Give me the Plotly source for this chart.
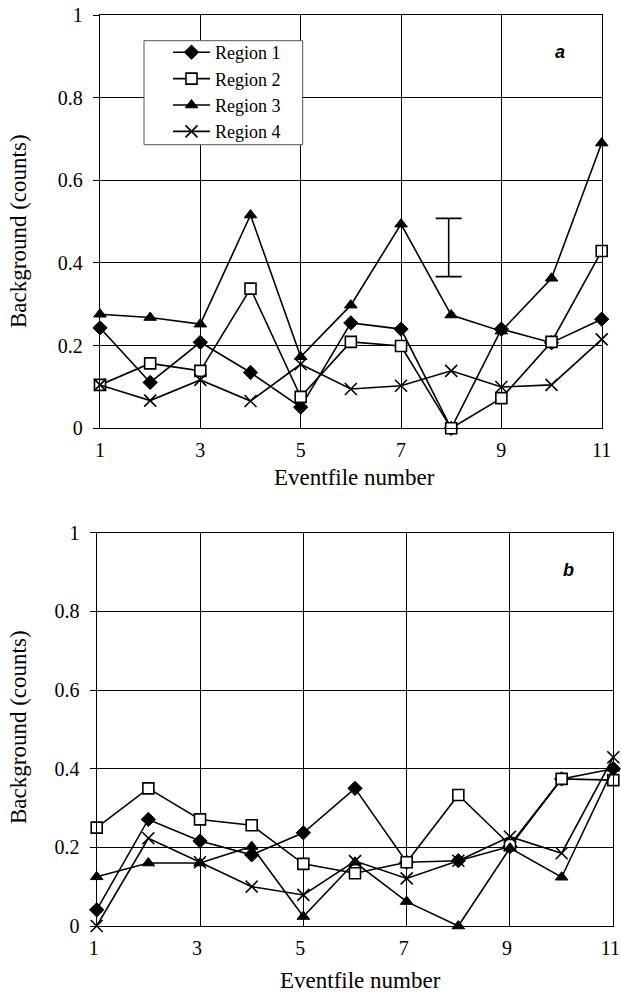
import plotly.graph_objects as go

eventfile = [1, 2, 3, 4, 5, 6, 7, 8, 9, 10, 11]
series_names = ["Region 1", "Region 2", "Region 3", "Region 4"]

a_region1 = [0.243, 0.111, 0.208, 0.135, 0.051, 0.255, 0.240, 0.0, 0.240, 0.207, 0.264]
a_region2 = [0.105, 0.157, 0.139, 0.338, 0.076, 0.209, 0.199, 0.0, 0.073, 0.209, 0.429]
a_region3 = [0.276, 0.268, 0.252, 0.516, 0.173, 0.298, 0.494, 0.274, 0.235, 0.363, 0.690]
a_region4 = [0.105, 0.067, 0.117, 0.066, 0.155, 0.095, 0.103, 0.139, 0.100, 0.105, 0.215]

b_region1 = [0.041, 0.271, 0.216, 0.181, 0.237, 0.350, 0.162, 0.166, 0.202, 0.374, 0.400]
b_region2 = [0.250, 0.350, 0.271, 0.256, 0.158, 0.134, 0.162, 0.333, 0.206, 0.374, 0.371]
b_region3 = [0.125, 0.160, 0.160, 0.202, 0.024, 0.162, 0.062, 0.0, 0.198, 0.124, 0.401]
b_region4 = [0.0, 0.223, 0.162, 0.100, 0.079, 0.165, 0.121, 0.166, 0.227, 0.185, 0.429]

errbar_x = [7.95]
errbar_y = [0.4375]
errbar_half = [0.0705]

y_ticks = [0, 0.2, 0.4, 0.6, 0.8, 1]
y_ticktext = ["0", "0.2", "0.4", "0.6", "0.8", "1"]
x_ticks = [1, 3, 5, 7, 9, 11]

W, H = 621, 994
SERIF = "Liberation Serif"
SANS = "Liberation Sans"

def px_x(p):
    return min(1.0, max(0.0, p / W))

def px_y(p):
    return max(0.0, min(1.0, 1 - p / H))

markers = [
    dict(symbol="diamond", size=11, color="black", line=dict(color="black", width=1)),
    dict(symbol="square", size=11, color="white", line=dict(color="black", width=1.6)),
    dict(symbol="triangle-up", size=11, color="black", line=dict(color="black", width=1)),
    dict(symbol="x-thin-open", size=12, color="black", line=dict(color="black", width=1.6)),
]

fig = go.Figure()

panels = [
    ([a_region1, a_region2, a_region3, a_region4], "x", "y", True),
    ([b_region1, b_region2, b_region3, b_region4], "x2", "y2", False),
]
for data, xa, ya, showleg in panels:
    for name, vals, mk in zip(series_names, data, markers):
        fig.add_trace(go.Scatter(
            x=eventfile, y=vals, name=name, mode="lines+markers",
            line=dict(color="black", width=1.6), marker=mk,
            xaxis=xa, yaxis=ya, showlegend=showleg, cliponaxis=False,
        ))

fig.add_trace(go.Scatter(
    x=errbar_x, y=errbar_y, mode="markers", marker=dict(size=0.1, color="rgba(0,0,0,0)"),
    error_y=dict(type="data", array=errbar_half, symmetric=True, color="black", thickness=1.6, width=13),
    xaxis="x", yaxis="y", showlegend=False, hoverinfo="skip",
))

axis_common = dict(
    showline=True, linecolor="black", linewidth=1.3, mirror=True,
    showgrid=True, gridcolor="black", gridwidth=1,
    zeroline=False, automargin=False, ticklabeloverflow="allow",
    tickfont=dict(family=SERIF, size=20, color="black"),
)

title_font = dict(family=SERIF, size=23, color="black")

fig.update_layout(
    width=W, height=H,
    margin=dict(l=0, r=0, t=0, b=0),
    paper_bgcolor="white", plot_bgcolor="white",
    font=dict(family=SERIF, color="black"),
    xaxis=dict(domain=[px_x(100), px_x(601.7)], range=[1, 11], tickvals=x_ticks,
               ticks="", anchor="y", ticklabelstandoff=4, **axis_common),
    yaxis=dict(domain=[px_y(428.3), px_y(15)], range=[0, 1], tickvals=y_ticks, ticktext=y_ticktext,
               ticks="outside", ticklen=6, tickcolor="black", anchor="x", ticklabelstandoff=6,
               **axis_common),
    xaxis2=dict(domain=[px_x(96.7), px_x(613.3)], range=[1, 11], tickvals=x_ticks,
                ticks="", anchor="y2", ticklabelstandoff=4, ticklabelshift=-3, **axis_common),
    yaxis2=dict(domain=[px_y(926), px_y(532.7)], range=[0, 1], tickvals=y_ticks, ticktext=y_ticktext,
                ticks="outside", ticklen=6, tickcolor="black", anchor="x2", ticklabelstandoff=6,
                **axis_common),
    legend=dict(
        x=px_x(168), y=px_y(34), xanchor="left", yanchor="top",
        bgcolor="rgba(0,0,0,0)", borderwidth=0, itemwidth=37,
        font=dict(family=SERIF, size=18, color="black"),
        tracegroupgap=0,
    ),
    shapes=[
        dict(type="rect", xref="paper", yref="paper", layer="above",
             x0=px_x(144), x1=px_x(302.7), y0=px_y(144.7), y1=px_y(40.7),
             fillcolor="white", line=dict(color="#555", width=1)),
    ],
    annotations=[
        dict(text="Eventfile number", xref="paper", yref="paper", x=px_x(354), y=px_y(478),
             xanchor="center", yanchor="middle", showarrow=False, font=title_font),
        dict(text="Eventfile number", xref="paper", yref="paper", x=px_x(360), y=px_y(980),
             xanchor="center", yanchor="middle", showarrow=False, font=title_font),
        dict(text="Background (counts)", xref="paper", yref="paper", x=px_x(18), y=px_y(231),
             xanchor="center", yanchor="middle", textangle=-90, showarrow=False, font=title_font),
        dict(text="Background (counts)", xref="paper", yref="paper", x=px_x(18), y=px_y(727),
             xanchor="center", yanchor="middle", textangle=-90, showarrow=False, font=title_font),
        dict(text="<b><i>a</i></b>", xref="paper", yref="paper", x=px_x(560), y=px_y(51.7),
             xanchor="center", yanchor="middle",
             showarrow=False, font=dict(family=SANS, size=18, color="black")),
        dict(text="<b><i>b</i></b>", xref="paper", yref="paper", x=px_x(568), y=px_y(570),
             xanchor="center", yanchor="middle",
             showarrow=False, font=dict(family=SANS, size=18, color="black")),
    ],
)

fig.write_html("out.html", config={"displayModeBar": False},
               post_script="document.body.style.margin='0px';document.body.style.padding='0px';")
